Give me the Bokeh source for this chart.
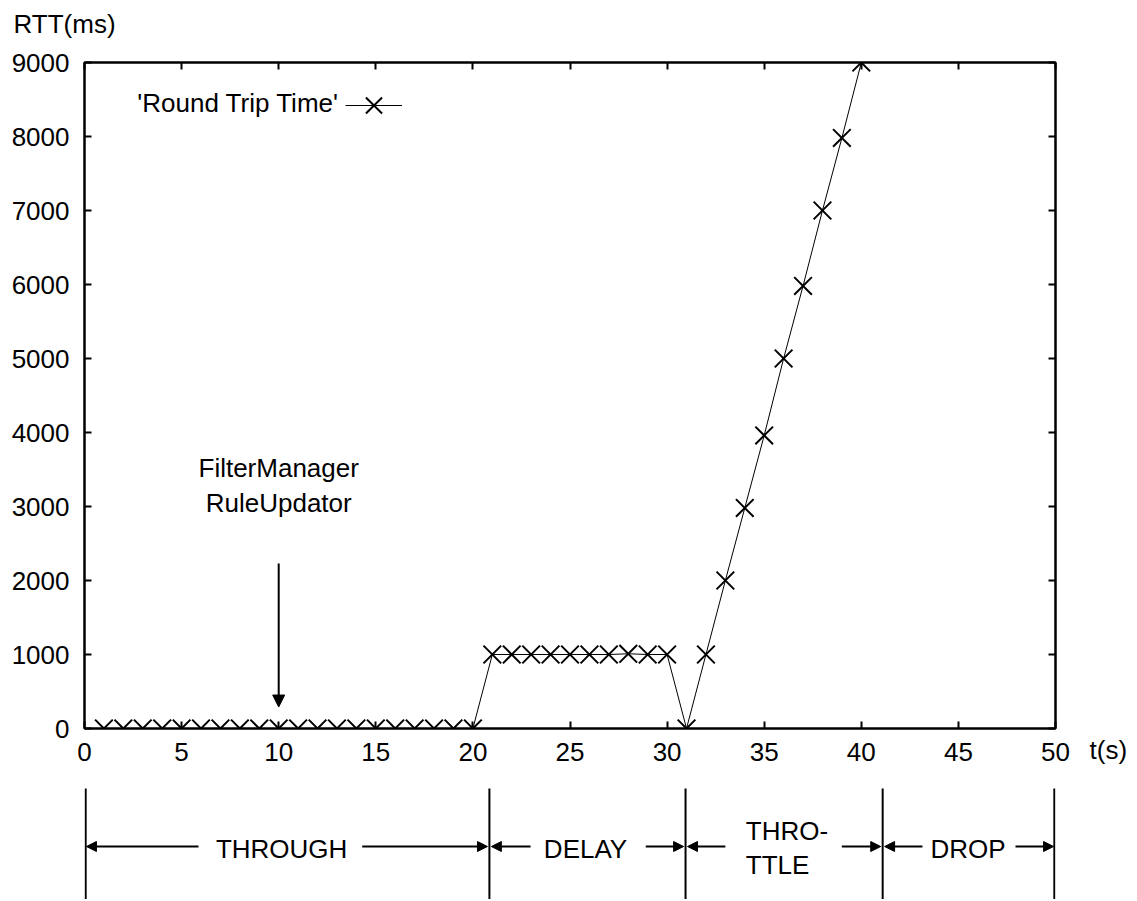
from bokeh.plotting import figure
from bokeh.models import (Range1d, LinearAxis, Arrow, NormalHead, Legend, LegendItem,
                          FixedTicker, ColumnDataSource, Title, Label)
from bokeh.layouts import column
from bokeh.core.properties import value
from bokeh.embed import file_html
from bokeh.resources import INLINE

# ---- data ----
t_s = list(range(1, 41))
rtt_ms = [0] * 20 + [1000, 1000, 1000, 1000, 1000, 1000, 1000, 1010, 1000, 1000] + \
         [0, 1000, 2000, 2980, 3960, 5000, 5980, 7000, 7980, 9000]
x_ticks = list(range(0, 51, 5))
y_ticks = list(range(0, 9001, 1000))
series_label = "'Round Trip Time'"
annot_lines = ["FilterManager", "RuleUpdator"]
annot_t = 10
phase_names = ["THROUGH", "DELAY", "THRO-\nTTLE", "DROP"]
phase_bounds = [0, 20.85, 30.95, 41.1, 50]

FONT = "Liberation Sans"
FS = "26px"

W = 1135
p = figure(width=W, height=778, output_backend="svg", toolbar_location=None,
           x_range=Range1d(0, 50), y_range=Range1d(0, 9000),
           min_border_left=84, min_border_right=W - 1055, min_border_top=62, min_border_bottom=50)
p.grid.visible = False
p.outline_line_color = "black"
p.outline_line_width = 2
p.background_fill_color = "white"
p.border_fill_color = "white"

def style_axis(ax, ticks, show_labels, standoff):
    ax.ticker = FixedTicker(ticks=ticks)
    ax.axis_line_color = "black"
    ax.axis_line_width = 2
    ax.major_tick_in = 7
    ax.major_tick_out = 0
    ax.major_tick_line_width = 2
    ax.minor_tick_line_color = None
    ax.major_label_text_font = FONT
    ax.major_label_text_font_size = FS
    ax.major_label_text_color = "black" if show_labels else None
    ax.major_label_standoff = standoff

style_axis(p.xaxis[0], x_ticks, True, 14)
style_axis(p.yaxis[0], y_ticks, True, 15)
top_ax = LinearAxis()
style_axis(top_ax, x_ticks, False, -10)
p.add_layout(top_ax, "above")
right_ax = LinearAxis()
style_axis(right_ax, y_ticks, False, 0)
p.add_layout(right_ax, "right")

# axis titles as plot titles (outside the frame)
p.title.text = "RTT(ms)"
p.title.align = "left"
p.title.offset = -71
p.title.vertical_align = "top"
p.title.standoff = -107
p.title.text_font = FONT
p.title.text_font_size = FS
p.title.text_font_style = "normal"
p.title.text_color = "black"

t_title = Title(text="t(s)", align="left", offset=1005, vertical_align="top", standoff=-57,
                text_font=FONT, text_font_size=FS, text_font_style="normal", text_color="black")
p.add_layout(t_title, "below")

src = ColumnDataSource(dict(t=t_s, rtt=rtt_ms))
ln = p.line("t", "rtt", source=src, line_color="black", line_width=1)
sc = p.scatter("t", "rtt", source=src, marker="x", size=25, line_color="black", line_width=2)

# legend: text to the left, sample to the right (gnuplot style)
p.add_layout(Label(x=13.1, y=8446, text=series_label, text_align="right", text_baseline="middle",
                   text_font=FONT, text_font_size=FS, text_color="black"))
leg = Legend(items=[LegendItem(label=" ", renderers=[ln, sc])], location=(261, 593),
             padding=0, margin=0, spacing=0, glyph_width=57, glyph_height=60,
             label_standoff=0, label_width=1, label_height=60, label_text_font_size="1px",
             background_fill_alpha=0, border_line_color=None)
p.add_layout(leg)

# annotation
p.add_layout(Label(x=annot_t, y=3527, text=annot_lines[0], text_align="center", text_baseline="middle",
                   text_font=FONT, text_font_size=FS, text_color="black"))
p.add_layout(Label(x=annot_t, y=3054, text=annot_lines[1], text_align="center", text_baseline="middle",
                   text_font=FONT, text_font_size=FS, text_color="black"))
p.add_layout(Arrow(x_start=annot_t, y_start=2230, x_end=annot_t, y_end=290, line_width=2,
                   line_color="black",
                   end=NormalHead(size=12, fill_color="black", line_color="black", line_width=1)))

# ---- phase diagram ----
H2 = 121
q = figure(width=W, height=H2, output_backend="svg", toolbar_location=None,
           x_range=Range1d(0, 50), y_range=Range1d(H2, 0),
           x_axis_type=None, y_axis_type=None,
           min_border_left=84, min_border_right=W - 1055, min_border_top=0, min_border_bottom=0)
q.grid.visible = False
q.outline_line_color = None
q.title.visible = False

seg_x = [min(max(b, 0.06), 49.94) for b in phase_bounds]
q.segment(x0=seg_x, y0=[10] * len(seg_x), x1=seg_x, y1=[H2] * len(seg_x),
          line_color="black", line_width=2)

arrow_inner = [(5.87, 14.3), (22.97, 28.9), (33.0, 39.0), (43.15, 47.94)]
ay = 68
for i, (l_in, r_in) in enumerate(arrow_inner):
    lb, rb = phase_bounds[i], phase_bounds[i + 1]
    for xs, xe in ((l_in, lb + 0.1), (r_in, rb - 0.1)):
        q.add_layout(Arrow(x_start=xs, y_start=ay, x_end=xe, y_end=ay, line_width=2, line_color="black",
                           end=NormalHead(size=10, fill_color="black", line_color="black", line_width=1)))

txt_x = [10.15, 25.8, 34.05, 45.5]
q.text(x=[txt_x[0], txt_x[1], txt_x[3]], y=[70, 70, 70],
       text=[phase_names[0], phase_names[1], phase_names[3]],
       text_align="center", text_baseline="middle", text_font=value(FONT),
       text_font_size=value(FS), text_color="black")
thr = phase_names[2].split("\n")
q.text(x=[txt_x[2], txt_x[2]], y=[52, 86], text=thr, text_align="left", text_baseline="middle",
       text_font=value(FONT), text_font_size=value(FS), text_color="black")

layout = column(p, q, spacing=0)
open("out.html", "w").write(file_html(layout, INLINE))
